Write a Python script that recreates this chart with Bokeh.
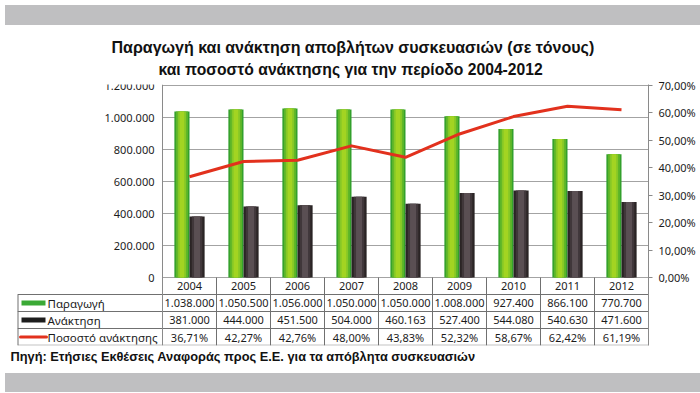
from bokeh.plotting import figure
from bokeh.models import Range1d, LinearAxis, FixedTicker, Title, Div, ColumnDataSource
from bokeh.layouts import column
from bokeh.core.properties import value
from bokeh.embed import file_html
from bokeh.resources import INLINE

# ---------------- data ----------------
years = ["2004", "2005", "2006", "2007", "2008", "2009", "2010", "2011", "2012"]
production = [1038000, 1050500, 1056000, 1050000, 1050000, 1008000, 927400, 866100, 770700]
recovery = [381000, 444000, 451500, 504000, 460163, 527400, 544080, 540630, 471600]
recovery_pct = [36.71, 42.27, 42.76, 48.00, 43.83, 52.32, 58.67, 62.42, 61.19]
left_ticks = [0, 200000, 400000, 600000, 800000, 1000000, 1200000]
right_ticks = [0, 10, 20, 30, 40, 50, 60, 70]
row_names = ["Παραγωγή", "Ανάκτηση", "Ποσοστό ανάκτησης"]
title_lines = ["Παραγωγή και ανάκτηση αποβλήτων συσκευασιών (σε τόνους)",
               "και ποσοστό ανάκτησης για την περίοδο 2004-2012"]
source_text = "Πηγή: Ετήσιες Εκθέσεις Αναφοράς προς Ε.Ε. για τα απόβλητα συσκευασιών"


def thousands(v):
    return f"{v:,}".replace(",", ".")


def percent(v):
    return f"{v:.2f}".replace(".", ",") + "%"


# ---------------- styling / layout ----------------
FONT = "Noto Sans"
TITLE_FONT = "Liberation Sans"
SRC_FONT = "Liberation Sans"
TEXT_COL = "#1c1c1c"
GRID_COL = "#a3a3a3"
AXIS_COL = "#8a8a8a"
TABLE_COL = "#707070"
GREEN_LAYERS = [(1.0, "#33a02c"), (0.8, "#5cb52a"), (0.55, "#86c826"), (0.3, "#a3d422")]
DARK_LAYERS = [(1.0, "#2a2425"), (0.7, "#40373a"), (0.4, "#5a4f53")]
SWATCH_COLS = ["#3aa935", "#1e1e1e", "#e2311d"]
RED = "#e2311d"
GRAY_BAND = "#bfbfc1"

W = 698
TOP_BAND = 20
FIG_H = 338
BORDER_L = 17
BORDER_R = 50
BORDER_TOP = 54
BORDER_BOTTOM = 23
BOTTOM_BAND = 19
LEG_COL_PX = 145          # width of the row-name column of the table
CHART_PX = 192            # pixels from 0 to the top tick
ROW_PX = 17               # height of one table row
BAR_W = 0.28

ncols = len(years)
nrows = len(row_names)
col_px = (W - BORDER_L - BORDER_R - LEG_COL_PX) / ncols
leg_units = LEG_COL_PX / col_px

ymax = left_ticks[-1]
ypx = ymax / CHART_PX
pmax = right_ticks[-1]
ppx = pmax / CHART_PX
below_px = ROW_PX * (nrows + 1)          # year row + data rows
ymin = -below_px * ypx
pmin = -below_px * ppx


def row_y(k):
    """data-y of the k-th table row boundary below zero (k=0 is the zero line)"""
    return -k * ROW_PX * ypx


xc = [i + 0.5 for i in range(ncols)]
src = ColumnDataSource(dict(x=xc, year=years, prod=production, rec=recovery, pct=recovery_pct,
                            xg=[x - BAR_W / 2 for x in xc], xd=[x + BAR_W / 2 for x in xc]))

p = figure(width=W, height=FIG_H, title=None,
           x_range=Range1d(-leg_units, ncols), y_range=Range1d(ymin, ymax + ypx),
           output_backend="svg", toolbar_location=None, x_axis_location=None,
           min_border_left=BORDER_L, min_border_right=BORDER_R,
           min_border_top=BORDER_TOP, min_border_bottom=BORDER_BOTTOM)
p.outline_line_color = None
p.background_fill_color = "white"
p.border_fill_color = "white"
p.grid.visible = False

# left axis drawn at the start of the chart columns
left_ticker = FixedTicker(ticks=left_ticks)
yax = p.yaxis[0]
yax.fixed_location = 0
yax.ticker = left_ticker
yax.major_label_overrides = {t: thousands(t) for t in left_ticks}
yax.major_tick_out = 0
yax.major_tick_in = 0
yax.minor_tick_out = 0
yax.minor_tick_in = 0
yax.axis_line_color = AXIS_COL
yax.major_label_standoff = 8
yax.major_label_text_font = FONT
yax.major_label_text_font_size = "11px"
yax.major_label_text_color = TEXT_COL

p.extra_y_ranges = {"pct": Range1d(pmin, pmax + ppx)}
rax = LinearAxis(y_range_name="pct", ticker=FixedTicker(ticks=right_ticks),
                 major_label_overrides={t: percent(t) for t in right_ticks})
rax.major_tick_out = 4
rax.major_tick_in = 0
rax.minor_tick_out = 0
rax.minor_tick_in = 0
rax.major_tick_line_color = AXIS_COL
rax.axis_line_color = AXIS_COL
rax.major_label_standoff = 6
rax.major_label_text_font = FONT
rax.major_label_text_font_size = "11px"
rax.major_label_text_color = TEXT_COL
p.add_layout(rax, "right")

# horizontal grid lines of the chart (only over the chart columns)
p.segment(x0=0, x1=ncols, y0=left_ticks, y1=left_ticks, line_color=GRID_COL, line_width=1)

for frac, col in GREEN_LAYERS:
    p.vbar(x="xg", top="prod", bottom=0, width=BAR_W * frac, source=src,
           fill_color=col, line_color=None)
for frac, col in DARK_LAYERS:
    p.vbar(x="xd", top="rec", bottom=0, width=BAR_W * frac, source=src,
           fill_color=col, line_color=None)

p.line(x="x", y="pct", y_range_name="pct", source=src,
       line_color=RED, line_width=3, line_join="round")

# ---------------- data table under the chart ----------------
p.text(x="x", y=(row_y(0) + row_y(1)) / 2, text="year", source=src, text_align="center",
       text_baseline="middle", text_font=value(FONT), text_font_size="11px",
       text_color=TEXT_COL)

rows_vals = [[thousands(v) for v in production],
             [thousands(v) for v in recovery],
             [percent(v) for v in recovery_pct]]
cx, cy, ct = [], [], []
for r, vals in enumerate(rows_vals):
    for x, s in zip(xc, vals):
        cx.append(x)
        cy.append((row_y(r + 1) + row_y(r + 2)) / 2)
        ct.append(s)
p.text(x=cx, y=cy, text=ct, text_align="center", text_baseline="middle",
       text_font=value(FONT), text_font_size="11px", text_color=TEXT_COL)

# row names and legend swatches
def px_x(px_from_table_left):
    return (px_from_table_left - LEG_COL_PX) / col_px


ry = [(row_y(r + 1) + row_y(r + 2)) / 2 for r in range(nrows)]
p.text(x=[px_x(30)] * nrows, y=ry, text=row_names, text_align="left",
       text_baseline="middle", text_font=value(FONT), text_font_size="11.5px",
       text_color=TEXT_COL)
sw = 2.5 * ypx
p.quad(left=px_x(4), right=px_x(28), top=[ry[0] + sw, ry[1] + sw],
       bottom=[ry[0] - sw, ry[1] - sw], fill_color=SWATCH_COLS[:2], line_color=None)
p.segment(x0=px_x(3), x1=px_x(29), y0=ry[2], y1=ry[2], line_color=SWATCH_COLS[2],
          line_width=3, line_cap="round")

# table lines
hl = [row_y(k) for k in range(1, nrows + 1)]
p.segment(x0=-leg_units, x1=ncols, y0=hl, y1=hl, line_color=TABLE_COL, line_width=1)
p.segment(x0=-leg_units, x1=ncols, y0=ymin, y1=ymin, line_color="#c4c4c4", line_width=2)
vl = list(range(1, ncols))
p.segment(x0=vl, x1=vl, y0=0, y1=ymin, line_color=TABLE_COL, line_width=1)
p.segment(x0=-leg_units, x1=-leg_units, y0=row_y(1), y1=ymin, line_color=TABLE_COL,
          line_width=2)

# titles
t2 = Title(text=title_lines[1], align="left", offset=141, vertical_align="top",
           standoff=10, text_font=TITLE_FONT, text_font_size="15.7px",
           text_font_style="bold", text_color="#111111")
t1 = Title(text=title_lines[0], align="left", offset=94, vertical_align="bottom",
           standoff=0, text_font=TITLE_FONT, text_font_size="16px",
           text_font_style="bold", text_color="#111111")
p.add_layout(t2, "above")
p.add_layout(t1, "above")

p.add_layout(Title(text=source_text, align="left", offset=-7, vertical_align="middle",
                   standoff=5, text_font=SRC_FONT, text_font_size="12.8px",
                   text_font_style="bold", text_color="#111111"), "below")

top_band = Div(text="", width=W, height=TOP_BAND, styles={"background-color": GRAY_BAND})
bottom_band = Div(text="", width=W, height=BOTTOM_BAND, styles={"background-color": GRAY_BAND})

layout = column(top_band, p, bottom_band, spacing=0)

open("out.html", "w").write(file_html(layout, INLINE))
